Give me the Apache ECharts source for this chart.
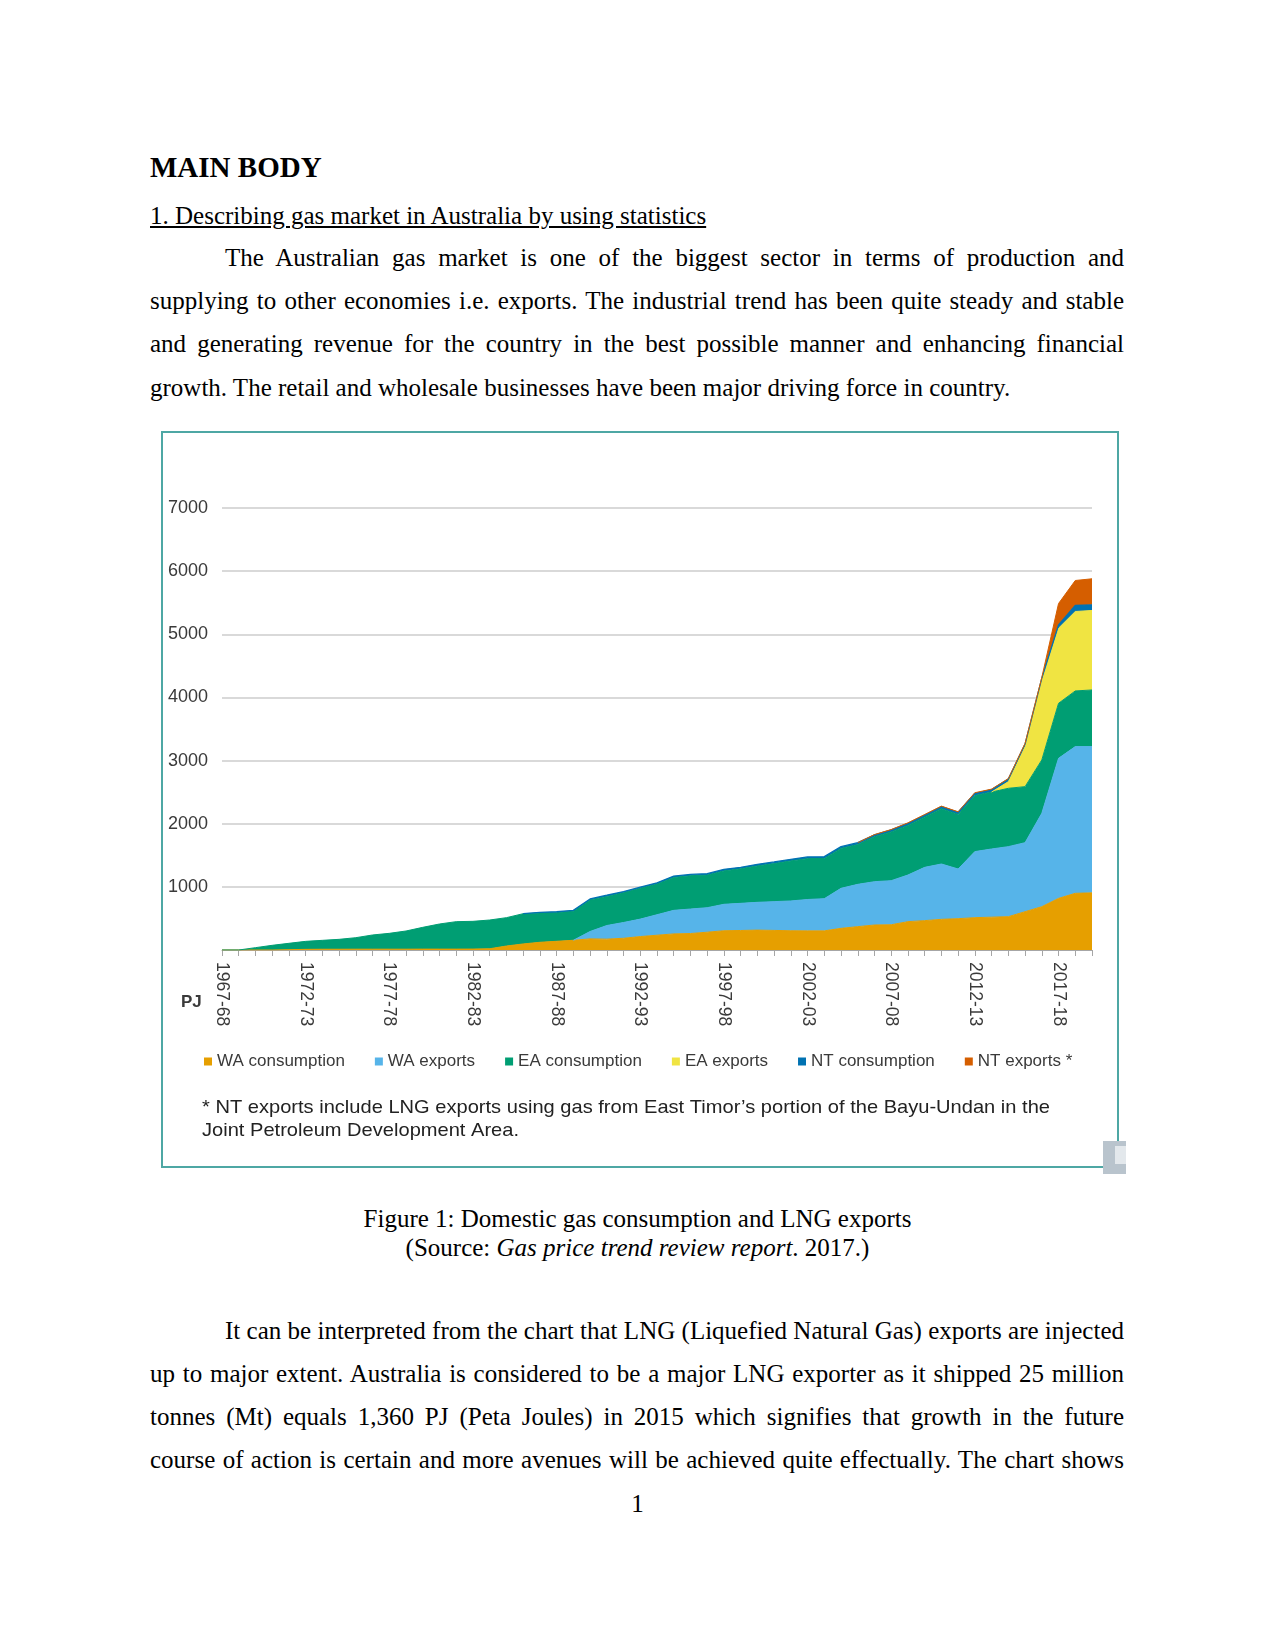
<!DOCTYPE html>
<html>
<head>
<meta charset="utf-8">
<script src="https://cdn.jsdelivr.net/npm/echarts@6/dist/echarts.min.js"></script>
<style>
html,body{margin:0;padding:0;background:#fff;}
#page{position:relative;width:1275px;height:1650px;overflow:hidden;background:#fff;font-family:"Liberation Serif","Times New Roman",serif;color:#000;}
.t{position:absolute;white-space:nowrap;font-size:25px;line-height:30px;}
.j{left:150px;width:974px;text-align:justify;text-align-last:justify;}
.c{left:0;width:1275px;text-align:center;}
#chart{position:absolute;left:161px;top:431px;width:958px;height:737px;}
#box{position:absolute;left:161px;top:431px;width:958px;height:737px;box-sizing:border-box;border:2px solid #4ea7a4;pointer-events:none;}
#icon{position:absolute;left:1103px;top:1141px;width:23px;height:33px;background:#b9c4cd;}
#icon2{position:absolute;left:1115px;top:1146px;width:11px;height:18px;background:#e3e8ec;}
</style>
</head>
<body>
<div id="page">
  <div class="t" style="left:150px;top:152px;font-size:29px;font-weight:bold;">MAIN BODY</div>
  <div class="t" style="left:150px;top:201px;text-decoration:underline;">1. Describing gas market in Australia by using statistics</div>
  <div class="t j" style="top:243px;text-indent:75px;">The Australian gas market is one of the biggest sector in terms of production and</div>
  <div class="t j" style="top:286px;">supplying to other economies i.e. exports. The industrial trend has been quite steady and stable</div>
  <div class="t j" style="top:329px;">and generating revenue for the country in the best possible manner and enhancing financial</div>
  <div class="t" style="left:150px;top:373px;">growth. The retail and wholesale businesses have been major driving force in country.</div>

  <div id="chart"></div>
  <div id="box"></div>
  <div id="icon"></div><div id="icon2"></div>

  <div class="t c" style="top:1204px;">Figure 1: Domestic gas consumption and LNG exports</div>
  <div class="t c" style="top:1233px;">(Source: <i>Gas price trend review report</i>. 2017.)</div>

  <div class="t j" style="top:1316px;text-indent:75px;">It can be interpreted from the chart that LNG (Liquefied Natural Gas) exports are injected</div>
  <div class="t j" style="top:1359px;">up to major extent. Australia is considered to be a major LNG exporter as it shipped 25 million</div>
  <div class="t j" style="top:1402px;">tonnes (Mt) equals 1,360 PJ (Peta Joules) in 2015 which signifies that growth in the future</div>
  <div class="t j" style="top:1445px;">course of action is certain and more avenues will be achieved quite effectually. The chart shows</div>
  <div class="t c" style="top:1489px;">1</div>
</div>
<script>
const years = ['1967-68','1968-69','1969-70','1970-71','1971-72','1972-73','1973-74','1974-75','1975-76','1976-77',
  '1977-78','1978-79','1979-80','1980-81','1981-82','1982-83','1983-84','1984-85','1985-86','1986-87',
  '1987-88','1988-89','1989-90','1990-91','1991-92','1992-93','1993-94','1994-95','1995-96','1996-97',
  '1997-98','1998-99','1999-00','2000-01','2001-02','2002-03','2003-04','2004-05','2005-06','2006-07',
  '2007-08','2008-09','2009-10','2010-11','2011-12','2012-13','2013-14','2014-15','2015-16','2016-17',
  '2017-18','2018-19','2019-20'];

const waConsumption = [0,0,0,0,5,10,12,12,13,13, 13,13,14,14,14,15,20,63,96,122,
  138,154,176,172,186,213,234,255,261,282, 305,309,315,310,305,303,303,343,370,396,
  400,449,465,486,496,512,520,528,607,686, 818,898,905];

const waExports = [null,null,null,null,null,null,null,null,null,null, null,null,null,null,null,null,null,null,null,null,
  null,0,117,216,250,276,325,373,388,388, 419,430,440,456,472,497,510,634,670,686,
  698,739,844,876,787,1046,1080,1109,1093,1479, 2218,2323,2316];

const eaConsumption = [0,0,37,74,101,127,141,157,182,225, 251,288,345,398,435,439,455,449,479,464,
  454,459,500,461,473,487,485,521,528,516, 529,547,577,602,634,647,637,632,630,711,
  772,785,799,876,864,888,902,924,887,845, 871,882,897];

const eaExports = [null,null,null,null,null,null,null,null,null,null, null,null,null,null,null,null,null,null,null,null,
  null,null,null,null,null,null,null,null,null,null, null,null,null,null,null,null,null,null,null,null,
  null,null,null,null,null,null,0,105,634,1250, 1190,1258,1259];

const ntConsumption = [null,null,null,null,null,null,null,null,null,null, null,null,null,null,null,null,null,null,0,10,
  14,15,16,18,17,19,20,21,20,22, 24,23,25,26,25,27,28,28,30,29,
  31,33,30,32,34,36,38,40,42,45, 50,95,90];

const ntExports = [null,null,null,null,null,null,null,null,null,null, null,null,null,null,null,null,null,null,null,null,
  null,null,null,null,null,null,null,null,null,null, null,null,null,null,null,null,null,null,0,6,
  7,8,8,9,8,9,8,9,10,12, 340,396,412];

const yTicks = [0,1000,2000,3000,4000,5000,6000,7000];

const seriesNames = ['WA consumption','WA exports','EA consumption','EA exports','NT consumption','NT exports *'];
const seriesColors = ['#e69f00','#56b4e9','#009e73','#f0e442','#0072b2','#d55e00'];
const seriesData = [waConsumption, waExports, eaConsumption, eaExports, ntConsumption, ntExports];

const FONT = '"Liberation Sans", Arial, sans-serif';
const chart = echarts.init(document.getElementById('chart'), null, {renderer:'canvas'});
const series = seriesNames.map((name, k) => ({
  name: name, type: 'line', stack: 'total', data: seriesData[k],
  symbol: 'none', showSymbol: false, smooth: false,
  lineStyle: {width: k === 4 ? 1.3 : 1, color: seriesColors[k]},
  itemStyle: {color: seriesColors[k]},
  areaStyle: {color: seriesColors[k], opacity: 1},
  emphasis: {disabled: true},
  z: 2
}));

chart.setOption({
  animation: false,
  textStyle: {fontFamily: FONT},
  grid: {left: 61, top: 77, width: 870, height: 442, containLabel: false},
  legend: {
    left: 38, top: 617, icon: 'rect', itemWidth: 8, itemHeight: 8, itemGap: 30,
    selectedMode: false, data: seriesNames,
    textStyle: {fontSize: 17, color: '#3a3a3a', fontFamily: FONT}
  },
  xAxis: {
    type: 'category', boundaryGap: false, data: years,
    axisLine: {lineStyle: {color: '#a6a6a6', width: 1}},
    axisTick: {show: true, interval: 0, length: 6, lineStyle: {color: '#a6a6a6'}},
    axisLabel: {interval: 4, rotate: -90, fontSize: 17.5, color: '#3a3a3a', margin: 12}
  },
  yAxis: {
    type: 'value', min: yTicks[0], max: yTicks[yTicks.length - 1], interval: 1000,
    axisLine: {show: false}, axisTick: {show: false},
    splitLine: {lineStyle: {color: '#cccccc', width: 1.5}},
    axisLabel: {fontSize: 18, color: '#3a3a3a', margin: 14, formatter: v => (v === 0 ? '' : String(v))}
  },
  graphic: [
    {type: 'text', left: 20, top: 563, style: {text: 'PJ', fontSize: 17, fontWeight: 'bold', fill: '#3a3a3a', fontFamily: FONT}},
    {type: 'text', x: 41, y: 667, scaleX: 1.057, style: {text: '* NT exports include LNG exports using gas from East Timor\u2019s portion of the Bayu-Undan in the', fontSize: 19, fill: '#222222', fontFamily: FONT}},
    {type: 'text', x: 41, y: 690, scaleX: 1.057, style: {text: 'Joint Petroleum Development Area.', fontSize: 19, fill: '#222222', fontFamily: FONT}}
  ],
  series: series
});
</script>
</body>
</html>
